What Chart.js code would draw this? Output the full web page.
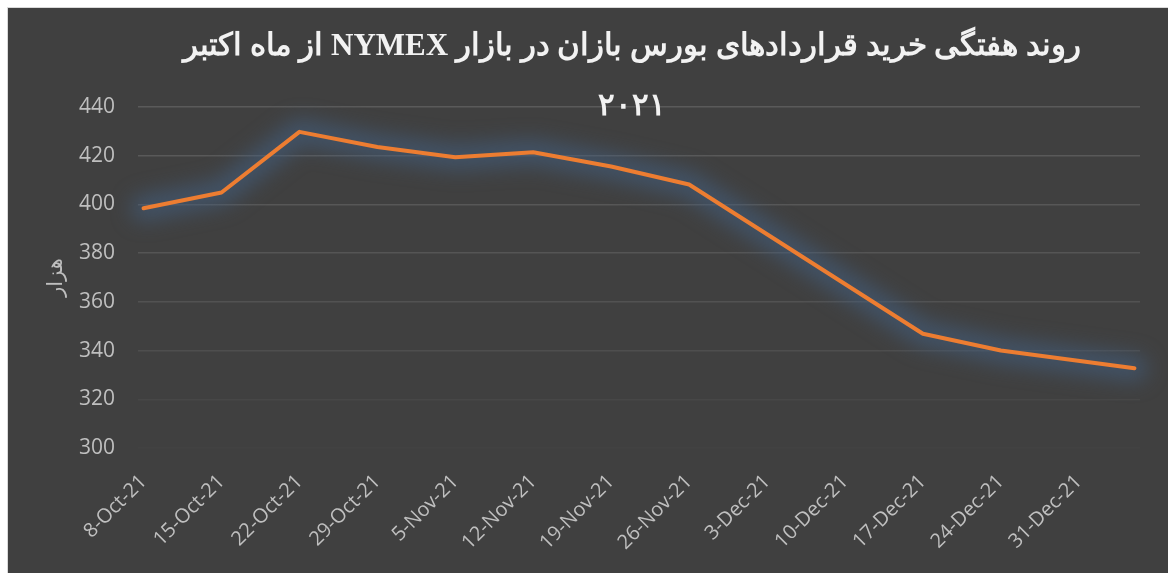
<!DOCTYPE html>
<html><head><meta charset="utf-8">
<script src="https://cdn.jsdelivr.net/npm/chart.js@4.4.1/dist/chart.umd.min.js"></script>
<style>
html,body{margin:0;padding:0;background:#fff;overflow:hidden;}
#wrap{position:absolute;left:7px;top:7px;width:1160px;height:565px;background:#404040;border-left:1px solid #d9d9d9;border-top:1px solid #d9d9d9;}
</style></head><body>
<div id="wrap"><canvas id="c"></canvas></div>
<script>
const titleLine1 = 'روند هفتگی خرید قراردادهای بورس بازان در بازار NYMEX از ماه اکتبر';
const titleLine2 = '۲۰۲۱';
const yTitle = 'هزار';
const tickLabels = ['8-Oct-21','15-Oct-21','22-Oct-21','29-Oct-21','5-Nov-21','12-Nov-21','19-Nov-21','26-Nov-21','3-Dec-21','10-Dec-21','17-Dec-21','24-Dec-21','31-Dec-21'];
const tickDays = [0,7,14,21,28,35,42,49,56,63,70,77,84];
const pointDays = [0,7,14,21,28,35,42,49,70,77,89];
const values = [398.4,404.9,429.8,423.6,419.4,421.4,415.6,408.2,346.9,340.0,332.7];
const yMin = 300, yMax = 440, yStep = 20;

const gridColors = {440:'#5a5a5a',420:'#595959',400:'#575757',380:'#555555',360:'#525252',340:'#4e4e4e',320:'#474747',300:'#424242'};
const RLE = '\u202B', PDF = '\u202C';

const glow = {
  id:'glow',
  beforeDatasetDraw(chart){
    const meta = chart.getDatasetMeta(0);
    const ctx = chart.ctx;
    ctx.save();
    ctx.filter = 'blur(10px)';
    ctx.strokeStyle = 'rgba(66,95,128,0.6)';
    ctx.lineWidth = 26;
    ctx.lineJoin = 'round';
    ctx.lineCap = 'round';
    ctx.beginPath();
    meta.data.forEach((p,i)=>{ if(i===0) ctx.moveTo(p.x,p.y); else ctx.lineTo(p.x,p.y); });
    ctx.stroke();
    ctx.restore();
  }
};
const titleShift = {
  id:'titleShift',
  afterLayout(chart){
    if (chart.titleBlock){ chart.titleBlock.left = 116; chart.titleBlock.right = 1132; }
  }
};

new Chart(document.getElementById('c'), {
  type:'line',
  data:{datasets:[{
    data: pointDays.map((d,i)=>({x:d,y:values[i]})),
    borderColor:'#ED7D31', borderWidth:4, pointRadius:0, tension:0, borderJoinStyle:'round', borderCapStyle:'round'
  }]},
  options:{
    responsive:true, maintainAspectRatio:false, animation:false,
    layout:{padding:{left:0,right:28,top:0,bottom:0}},
    plugins:{
      legend:{display:false}, tooltip:{enabled:false},
      title:{display:true, text:[RLE+titleLine1+PDF, RLE+titleLine2+PDF], color:'#f2f2f2',
        font:{family:'"Liberation Serif","DejaVu Serif",serif', size:31, weight:'bold', lineHeight:'60px'},
        padding:{top:9,bottom:-30}}
    },
    scales:{
      x:{type:'linear', min:-0.5, max:89.5,
        afterBuildTicks(s){ s.ticks = tickDays.map(v=>({value:v})); },
        afterFit(s){ s.height = 125; },
        grid:{display:false}, border:{display:false},
        ticks:{autoSkip:false, maxRotation:45, minRotation:45, padding:14, color:'#bfbfbf',
          font:{family:'"Open Sans"', size:20},
          callback:(v,i)=>tickLabels[i]}
      },
      y:{min:yMin, max:yMax,
        afterFit(s){ s.width = 130; },
        grid:{color:(c)=>gridColors[c.tick.value]||'#555555', lineWidth:1.5, drawTicks:false},
        border:{display:false},
        ticks:{stepSize:yStep, padding:23, color:'#bfbfbf', font:{family:'"Open Sans"', size:21}},
        title:{display:true, text:yTitle, color:'#bfbfbf', font:{family:'"Noto Sans","DejaVu Sans"', size:21}, padding:{top:35,bottom:0}}
      }
    }
  },
  plugins:[glow, titleShift]
});
</script>
</body></html>
